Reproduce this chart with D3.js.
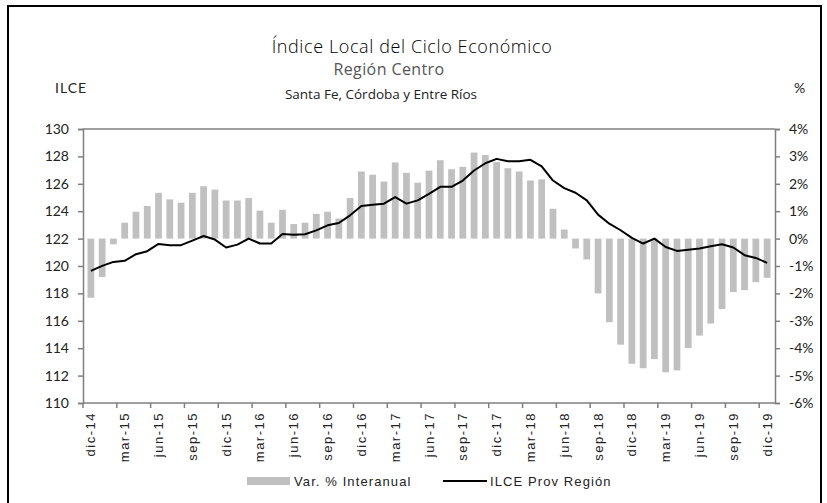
<!DOCTYPE html>
<html>
<head>
<meta charset="utf-8">
<script src="https://cdn.jsdelivr.net/npm/d3@7"></script>
<style>
  body { margin: 0; background: #fff; }
</style>
</head>
<body>
<script>
// monthly categories dic-14 .. dic-19
var monthNames = ["ene", "feb", "mar", "abr", "may", "jun", "jul", "ago", "sep", "oct", "nov", "dic"];
var months = ["dic-14"];
for (var y = 15; y <= 19; y++) {
  monthNames.forEach(function(m) { months.push(m + "-" + y); });
}

// Var. % Interanual (right axis)
var varInteranual = [
  -2.16, -1.40, -0.21, 0.58, 0.98, 1.19, 1.67, 1.43, 1.31, 1.67,
  1.91, 1.79, 1.39, 1.39, 1.48, 1.02, 0.58, 1.05, 0.53, 0.58,
  0.90, 0.98, 0.73, 1.48, 2.45, 2.33, 2.08, 2.78, 2.40, 2.04,
  2.48, 2.86, 2.53, 2.62, 3.14, 3.05, 2.79, 2.57, 2.45, 2.12,
  2.16, 1.09, 0.33, -0.36, -0.76, -2.00, -3.05, -3.87, -4.57, -4.73,
  -4.40, -4.88, -4.81, -3.99, -3.54, -3.10, -2.57, -1.95, -1.88, -1.59, -1.43
];

// ILCE Prov Región (left axis)
var ilce = [
  119.65, 120.01, 120.30, 120.38, 120.86, 121.08, 121.61, 121.52, 121.52, 121.85,
  122.19, 121.93, 121.35, 121.56, 122.00, 121.64, 121.64, 122.34, 122.29, 122.32,
  122.60, 122.97, 123.14, 123.70, 124.38, 124.47, 124.55, 125.03, 124.55, 124.79,
  125.27, 125.78, 125.78, 126.24, 126.97, 127.50, 127.82, 127.65, 127.65, 127.75,
  127.28, 126.24, 125.68, 125.35, 124.79, 123.75, 123.09, 122.61, 122.05, 121.64,
  122.00, 121.39, 121.10, 121.18, 121.27, 121.44, 121.59, 121.35, 120.79, 120.59, 120.23
];

var leftTicks = [110, 112, 114, 116, 118, 120, 122, 124, 126, 128, 130];
var rightTicks = [-6, -5, -4, -3, -2, -1, 0, 1, 2, 3, 4];

var W = 827, H = 503;
var margin = {top: 129, right: 52, bottom: 100, left: 83};
var width = W - margin.left - margin.right,
    height = H - margin.top - margin.bottom;

var svg = d3.select("body").append("svg")
  .attr("width", W)
  .attr("height", H);

// outer frame
svg.append("rect")
  .attr("x", 8).attr("y", 6)
  .attr("width", 813).attr("height", 510)
  .attr("fill", "none")
  .attr("stroke", "#000")
  .attr("stroke-width", 2);

var g = svg.append("g")
  .attr("transform", "translate(" + margin.left + "," + margin.top + ")");

var xScale = d3.scaleBand().domain(months).range([0, width]).padding(0.4);
var yLeft = d3.scaleLinear().domain([110, 130]).range([height, 0]);
var yRight = d3.scaleLinear().domain([-6, 4]).range([height, 0]);

// bars
g.selectAll(".bar")
  .data(varInteranual)
  .enter().append("rect")
  .attr("class", "bar")
  .attr("x", function(d, i) { return xScale(months[i]); })
  .attr("width", xScale.bandwidth())
  .attr("y", function(d) { return yRight(Math.max(0, d)); })
  .attr("height", function(d) { return Math.abs(yRight(d) - yRight(0)); })
  .attr("fill", "#c0c0c0");

// line
var valueline = d3.line()
  .x(function(d, i) { return xScale(months[i]) + xScale.bandwidth() / 2; })
  .y(function(d) { return yLeft(d); });

g.append("path")
  .datum(ilce)
  .attr("fill", "none")
  .attr("stroke", "#000")
  .attr("stroke-width", 2)
  .attr("stroke-linejoin", "round")
  .attr("d", valueline);

var axisColor = "#7f7f7f";

// top line of plot area
g.append("line")
  .attr("x1", 0).attr("x2", width)
  .attr("y1", 0).attr("y2", 0)
  .attr("stroke", axisColor).attr("stroke-width", 1.5);

// left axis
var la = g.append("g")
  .call(d3.axisLeft(yLeft).tickValues(leftTicks).tickSize(5).tickPadding(9));
la.selectAll("text").style("font-family", "Lato, sans-serif").style("font-size", "14px").attr("fill", "#222");

// right axis
var ra = g.append("g")
  .attr("transform", "translate(" + width + ",0)")
  .call(d3.axisRight(yRight).tickValues(rightTicks).tickSize(5).tickPadding(9)
    .tickFormat(function(d) { return d + "%"; }));
ra.selectAll("text").style("font-family", "Lato, sans-serif").style("font-size", "14px").attr("fill", "#222");

// bottom axis: ticks at band boundaries every 3 months, labels at band centres
var step = xScale.step();
var xa = g.append("g").attr("transform", "translate(0," + height + ")");
xa.append("line")
  .attr("x1", 0).attr("x2", width)
  .attr("stroke", axisColor).attr("stroke-width", 1.5);
var shown = months.filter(function(d, i) { return i % 3 === 0; });
xa.selectAll(".tk")
  .data(shown)
  .enter().append("line")
  .attr("x1", function(d) { return months.indexOf(d) * step; })
  .attr("x2", function(d) { return months.indexOf(d) * step; })
  .attr("y1", 0).attr("y2", 5)
  .attr("stroke", axisColor).attr("stroke-width", 1.5);
xa.selectAll(".lb")
  .data(shown)
  .enter().append("text")
  .attr("transform", function(d) {
    var cx = xScale(d) + xScale.bandwidth() / 2 + 4.5;
    return "translate(" + cx + ",9) rotate(-90)";
  })
  .attr("text-anchor", "end")
  .attr("fill", "#222")
  .style("font-family", "'Liberation Sans', Arial, sans-serif")
  .style("font-size", "13px")
  .style("letter-spacing", "1.5px")
  .text(function(d) { return d; });

[la, ra].forEach(function(a) {
  a.select(".domain").attr("stroke", axisColor).attr("stroke-width", 1.5);
  a.selectAll(".tick line").attr("stroke", axisColor).attr("stroke-width", 1.5);
});

// titles
svg.append("text").attr("x", 412).attr("y", 53).attr("text-anchor", "middle")
  .style("font-family", "'Open Sans', sans-serif").style("font-size", "18px")
  .style("font-weight", "300").style("letter-spacing", "0.6px").attr("fill", "#000")
  .text("Índice Local del Ciclo Económico");
svg.append("text").attr("x", 389).attr("y", 75).attr("text-anchor", "middle")
  .style("font-family", "'Open Sans', sans-serif").style("font-size", "16px")
  .style("letter-spacing", "0.4px").attr("fill", "#555")
  .text("Región Centro");
svg.append("text").attr("x", 381).attr("y", 99).attr("text-anchor", "middle")
  .style("font-family", "'Open Sans', sans-serif").style("font-size", "13.5px")
  .attr("fill", "#222")
  .text("Santa Fe, Córdoba y Entre Ríos");
svg.append("text").attr("x", 55).attr("y", 93)
  .style("font-family", "Lato, sans-serif").style("font-size", "14px")
  .style("letter-spacing", "1px").attr("fill", "#222")
  .text("ILCE");
svg.append("text").attr("x", 794).attr("y", 93)
  .style("font-family", "Lato, sans-serif").style("font-size", "14px")
  .attr("fill", "#222")
  .text("%");

// legend
var lg = svg.append("g").attr("transform", "translate(0,481)");
lg.append("rect").attr("x", 247).attr("y", -4).attr("width", 43).attr("height", 8).attr("fill", "#c0c0c0");
lg.append("text").attr("x", 294).attr("y", 4.5)
  .attr("fill", "#222")
  .style("font-family", "'Liberation Sans', Arial, sans-serif").style("font-size", "13px")
  .style("letter-spacing", "1.1px")
  .text("Var. % Interanual");
lg.append("line").attr("x1", 443).attr("x2", 487).attr("y1", 0).attr("y2", 0)
  .attr("stroke", "#000").attr("stroke-width", 2);
lg.append("text").attr("x", 490).attr("y", 4.5)
  .attr("fill", "#222")
  .style("font-family", "'Liberation Sans', Arial, sans-serif").style("font-size", "13px")
  .style("letter-spacing", "1.1px")
  .text("ILCE Prov Región");
</script>
</body>
</html>
